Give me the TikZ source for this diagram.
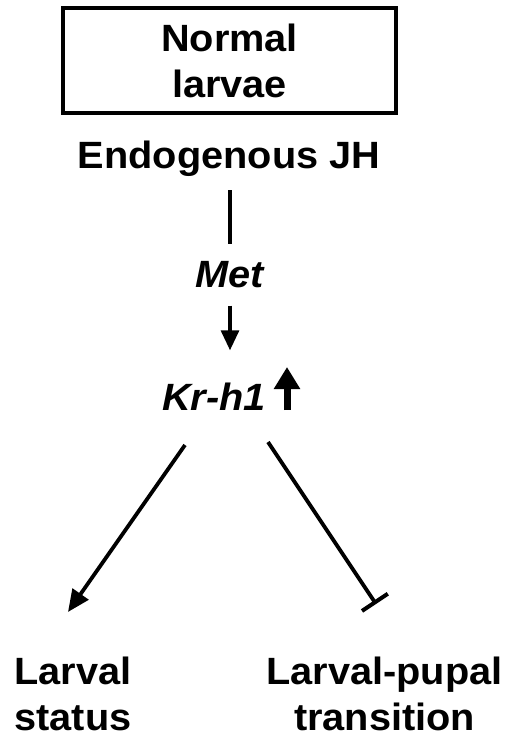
\documentclass[tikz,border=0pt]{standalone}
\usepackage{fontspec}
\setmainfont{Liberation Sans}[FakeStretch=1.045]
\usetikzlibrary{arrows.meta}
\begin{document}
\begin{tikzpicture}[x=1pt,y=-1pt,
  lbl/.style={font=\fontsize{38}{46}\selectfont\bfseries, inner sep=0pt, align=center},
  gene/.style={lbl, font=\fontsize{38}{46}\selectfont\bfseries\itshape},
  conn/.style={line width=3.2pt},
  diag/.style={line width=3.8pt}]
\useasboundingbox (0,0) rectangle (509,738);
\node[lbl, draw, line width=3.6pt, minimum width=333pt, minimum height=105pt] (box) at (229.5,60.5) {Normal\\larvae};
\node[lbl, anchor=base] (jh) at (229,168) {Endogenous JH};
\node[gene, anchor=base] (met) at (230,287) {Met};
\node[gene, anchor=base] (kr) at (214,410) {Kr-h1};
\node[lbl, anchor=base] (ls) at (73,730) {Larval\\status};
\node[lbl, anchor=base] (lp) at (384.5,730) {Larval-pupal\\transition};
\coordinate (upb) at (287,410);
\coordinate (upt) at (287,367);
\coordinate (ls1) at (185,445);
\coordinate (ls2) at (68,612);
\coordinate (lp1) at (268,442);
\coordinate (lp2) at (376,604);
\draw[conn] ([yshift=-14pt]jh.south -| met.south) -- ([yshift=17pt]met.north);
\draw[conn, -{Triangle[width=18pt,length=20pt]}] ([yshift=-18pt]met.south) -- ([yshift=32pt]met.south |- kr.north);
\draw[line width=7pt, -{Triangle[width=25pt,length=22pt]}] (upb) -- (upt);
\draw[diag, -{Triangle[width=19pt,length=22pt]}] (ls1) -- (ls2);
\draw[diag, -{Bar[width=31pt,line width=4pt]}] (lp1) -- (lp2);
\end{tikzpicture}
\end{document}
